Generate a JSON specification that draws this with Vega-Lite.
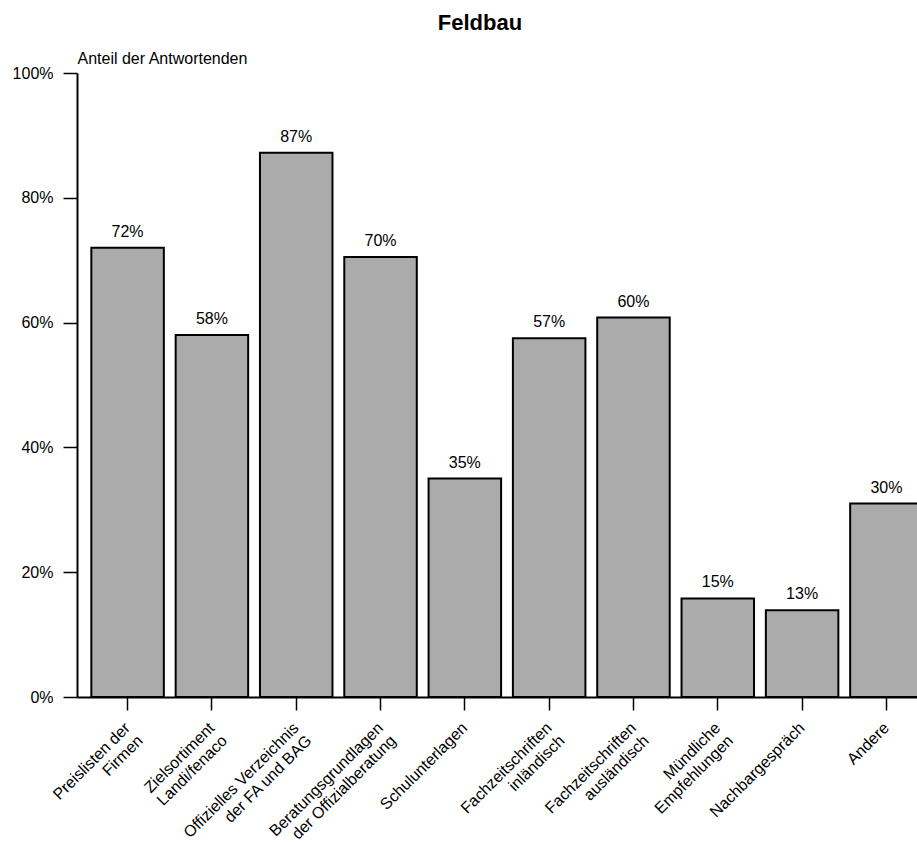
{
  "$schema": "https://vega.github.io/schema/vega-lite/v6.json",
  "width": 860,
  "height": 624,
  "autosize": {"type": "none"},
  "padding": {"left": 77, "top": 73, "right": 0, "bottom": 145},
  "background": "white",
  "title": {
    "text": "Feldbau",
    "font": "Liberation Sans",
    "fontSize": 22,
    "fontWeight": "bold",
    "color": "black",
    "anchor": "middle",
    "dx": -27,
    "offset": 15
  },
  "data": {
    "values": [
      {"kategorie": "Preislisten der|Firmen", "anteil": 72, "label": "72%"},
      {"kategorie": "Zielsortiment|Landi/fenaco", "anteil": 58, "label": "58%"},
      {"kategorie": "Offizielles Verzeichnis|der FA und BAG", "anteil": 87.2, "label": "87%"},
      {"kategorie": "Beratungsgrundlagen|der Offizialberatung", "anteil": 70.5, "label": "70%"},
      {"kategorie": "Schulunterlagen", "anteil": 35, "label": "35%"},
      {"kategorie": "Fachzeitschriften|inländisch", "anteil": 57.5, "label": "57%"},
      {"kategorie": "Fachzeitschriften|ausländisch", "anteil": 60.8, "label": "60%"},
      {"kategorie": "Mündliche|Empfehlungen", "anteil": 15.8, "label": "15%"},
      {"kategorie": "Nachbargespräch", "anteil": 13.9, "label": "13%"},
      {"kategorie": "Andere", "anteil": 31, "label": "30%"}
    ]
  },
  "encoding": {
    "x": {
      "field": "kategorie",
      "type": "nominal",
      "sort": null,
      "scale": {"paddingInner": 0.14, "paddingOuter": 0.17},
      "axis": {
        "title": null,
        "labelAngle": -45,
        "labelAlign": "right",
        "labelBaseline": "middle",
        "labelExpr": "split(datum.label, '|')",
        "labelFont": "Liberation Sans",
        "labelFontSize": 16,
        "labelLineHeight": 18,
        "labelColor": "black",
        "labelPadding": 15,
        "tickSize": 13,
        "tickColor": "black",
        "tickWidth": 1.5,
        "domainColor": "black",
        "domainWidth": 2,
        "labelOverlap": false
      }
    },
    "y": {
      "field": "anteil",
      "type": "quantitative",
      "scale": {"domain": [0, 100], "nice": false},
      "axis": {
        "values": [0, 20, 40, 60, 80, 100],
        "labelExpr": "datum.value + '%'",
        "grid": false,
        "title": "Anteil der Antwortenden",
        "titleAngle": 0,
        "titleAlign": "left",
        "titleBaseline": "middle",
        "titleX": 0,
        "titleY": -15,
        "titleFont": "Liberation Sans",
        "titleFontSize": 16,
        "titleFontWeight": "normal",
        "titleColor": "black",
        "labelFont": "Liberation Sans",
        "labelFontSize": 16,
        "labelColor": "black",
        "labelPadding": 10,
        "tickSize": 14,
        "tickColor": "black",
        "tickWidth": 1.5,
        "domainColor": "black",
        "domainWidth": 2
      }
    }
  },
  "layer": [
    {
      "mark": {"type": "bar", "fill": "#ababab", "stroke": "black", "strokeWidth": 2}
    },
    {
      "mark": {"type": "text", "baseline": "bottom", "dy": -8, "font": "Liberation Sans", "fontSize": 16, "color": "black"},
      "encoding": {"text": {"field": "label"}}
    }
  ],
  "config": {"view": {"stroke": null}}
}
